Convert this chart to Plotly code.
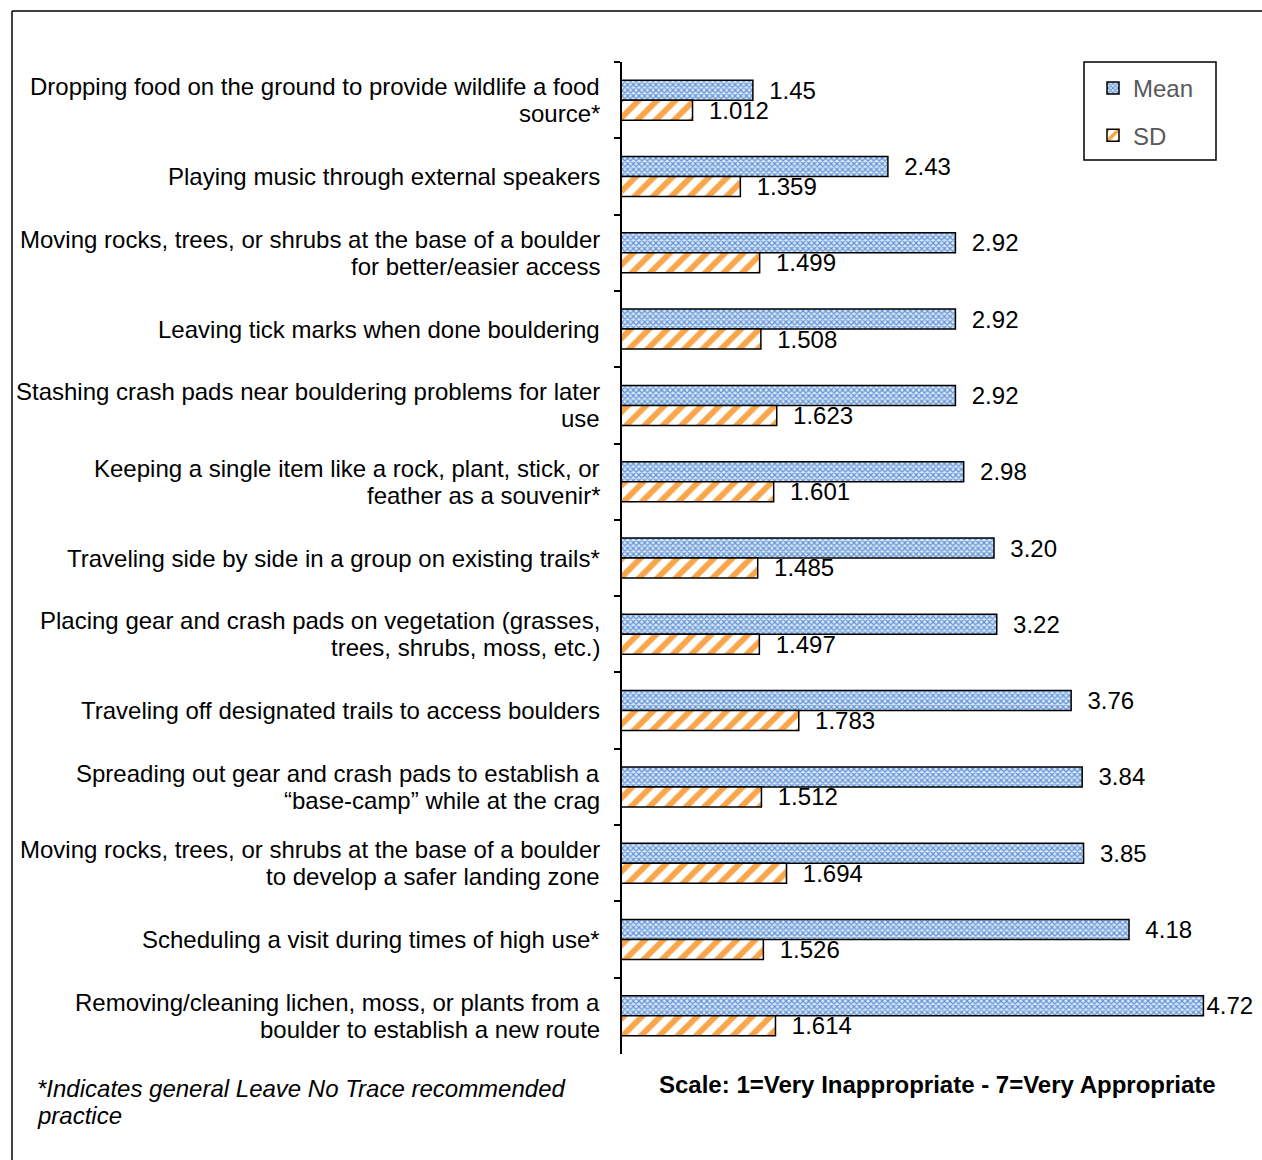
import plotly.graph_objects as go

# Behaviour statements, top to bottom
categories = [
    "Dropping food on the ground to provide wildlife a food<br>source*",
    "Playing music through external speakers",
    "Moving rocks, trees, or shrubs at the base of a boulder<br>for better/easier access",
    "Leaving tick marks when done bouldering",
    "Stashing crash pads near bouldering problems for later<br>use",
    "Keeping a single item like a rock, plant, stick, or<br>feather as a souvenir*",
    "Traveling side by side in a group on existing trails*",
    "Placing gear and crash pads on vegetation (grasses,<br>trees, shrubs, moss, etc.)",
    "Traveling off designated trails to access boulders",
    "Spreading out gear and crash pads to establish a<br>\u201cbase-camp\u201d while at the crag",
    "Moving rocks, trees, or shrubs at the base of a boulder<br>to develop a safer landing zone",
    "Scheduling a visit during times of high use*",
    "Removing/cleaning lichen, moss, or plants from a<br>boulder to establish a new route",
]
mean_values = [1.45, 2.43, 2.92, 2.92, 2.92, 2.98, 3.20, 3.22, 3.76, 3.84, 3.85, 4.18, 4.72]
sd_values = [1.012, 1.359, 1.499, 1.508, 1.623, 1.601, 1.485, 1.497, 1.783, 1.512, 1.694, 1.526, 1.614]
footnote_lines = ["*Indicates general Leave No Trace recommended", "practice"]
scale_note = "Scale: 1=Very Inappropriate - 7=Very Appropriate"

W, H = 1262, 1160
ML, MR, MT, MB = 622, 20, 62, 106
PW, PH = W - ML - MR, H - MT - MB


def px_x(x):
    return (x - ML) / PW


def px_y(y):
    return (H - MB - y) / PH


FONT = "Liberation Sans, Arial, sans-serif"
FS = 24
LINE = 27  # line spacing of multi-line labels, px
PAD = "\u00a0\u00a0"
X_MAX = 5.0


def lbl(v, fmt):
    # keep the label inside the frame when the bar reaches the right side
    return (PAD if v < 4.5 else "") + format(v, fmt)


fig = go.Figure()
fig.add_trace(go.Bar(
    y=categories, x=mean_values, orientation="h", name="Mean",
    legendgroup="mean",
    text=[lbl(v, ".2f") for v in mean_values], textposition="outside",
    textfont=dict(family=FONT, size=FS, color="black"),
    marker=dict(
        color="#ffffff",
        line=dict(color="black", width=1.5),
        pattern=dict(shape="x", fgcolor="#5f93d6", bgcolor="#dbe7f6",
                     size=4, solidity=0.5, fillmode="replace"),
    ),
    cliponaxis=False,
))
fig.add_trace(go.Bar(
    y=categories, x=sd_values, orientation="h", name="SD",
    legendgroup="sd",
    text=[lbl(v, ".3f") for v in sd_values], textposition="outside",
    textfont=dict(family=FONT, size=FS, color="black"),
    marker=dict(
        color="#ffffff",
        line=dict(color="black", width=1.5),
        pattern=dict(shape="/", fgcolor="#f9a54a", bgcolor="#ffffff",
                     size=13, solidity=0.45, fillmode="replace"),
    ),
    cliponaxis=False,
))

fig.update_traces(constraintext="none")

annotations = []
# category labels, one annotation per line for tighter line spacing
for cat in categories:
    lines = cat.split("<br>")
    n = len(lines)
    for i, line in enumerate(lines):
        annotations.append(dict(
            text=line, xref="paper", yref="y", x=px_x(602), y=cat,
            xanchor="right", yanchor="middle", showarrow=False,
            yshift=((n - 1) / 2 - i) * LINE,
            font=dict(family=FONT, size=FS, color="black"),
        ))

annotations.append(dict(
    text=f"<b>{scale_note}</b>",
    xref="paper", yref="paper", x=px_x(937), y=px_y(1084),
    xanchor="center", yanchor="middle", showarrow=False,
    font=dict(family=FONT, size=FS, color="black")))
for i, line in enumerate(footnote_lines):
    annotations.append(dict(
        text=f"<i>{line}</i>",
        xref="paper", yref="paper", x=px_x(35), y=px_y(1088 + i * LINE),
        xanchor="left", yanchor="middle", showarrow=False,
        font=dict(family=FONT, size=FS, color="black")))

fig.update_layout(
    width=W, height=H,
    margin=dict(l=ML, r=MR, t=MT, b=MB, autoexpand=False),
    paper_bgcolor="white", plot_bgcolor="white",
    font=dict(family=FONT, size=FS, color="black"),
    barmode="group", bargap=0.476, bargroupgap=0,
    showlegend=True,
    legend=dict(
        x=px_x(1093), y=px_y(66), xanchor="left", yanchor="top",
        borderwidth=0, bgcolor="rgba(0,0,0,0)",
        font=dict(family=FONT, size=FS, color="#595959"),
        traceorder="grouped", tracegroupgap=13,
        itemwidth=30,
    ),
    xaxis=dict(
        range=[0.5, X_MAX], visible=False, showgrid=False, zeroline=False,
    ),
    yaxis=dict(
        autorange="reversed", showline=True, linecolor="black", linewidth=1.5,
        ticks="outside", tickson="boundaries", ticklen=6, tickcolor="black",
        tickwidth=1.5, showgrid=False, showticklabels=False,
    ),
    shapes=[
        # outer frame
        dict(type="line", xref="paper", yref="paper",
             x0=px_x(12), y0=px_y(11), x1=px_x(1262), y1=px_y(11),
             line=dict(color="black", width=1.5)),
        dict(type="line", xref="paper", yref="paper",
             x0=px_x(12), y0=px_y(11), x1=px_x(12), y1=px_y(1160),
             line=dict(color="black", width=1.5)),
        # legend box
        dict(type="rect", xref="paper", yref="paper",
             x0=px_x(1084), y0=px_y(62), x1=px_x(1216), y1=px_y(160),
             line=dict(color="black", width=1.5), layer="below"),
    ],
    annotations=annotations,
)

fig.write_html("out.html")
